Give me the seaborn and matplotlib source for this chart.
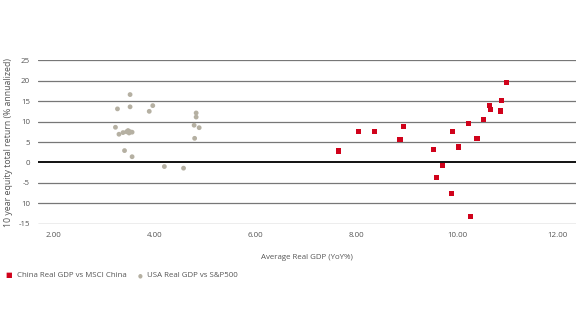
import matplotlib
matplotlib.use("Agg")
import matplotlib.pyplot as plt
import seaborn as sns
import pandas as pd

# China: average real GDP growth vs 10-year MSCI China annualised return
china_gdp = [7.65, 8.05, 8.36, 8.94, 8.87, 9.54, 9.60, 9.72, 9.91, 9.90,
             10.03, 10.23, 10.27, 10.40, 10.53, 10.64, 10.67, 10.87, 10.88, 10.98]
china_ret = [2.8, 7.5, 7.6, 8.7, 5.7, 3.1, -3.7, -0.8, 7.5, -7.6,
             3.8, 9.5, -13.3, 5.8, 10.5, 14.0, 13.0, 12.6, 15.2, 19.5]

# USA: average real GDP growth vs 10-year S&P500 annualised return
usa_gdp = [3.23, 3.27, 3.30, 3.38, 3.41, 3.45, 3.48, 3.50, 3.52, 3.56, 3.52,
           3.52, 3.56, 3.90, 3.97, 4.20, 4.58, 4.80, 4.79, 4.83, 4.83, 4.89]
usa_ret = [8.6, 13.1, 6.9, 7.3, 2.9, 7.5, 7.8, 7.2, 7.5, 7.4, 13.6,
           16.6, 1.4, 12.5, 13.9, -1.0, -1.4, 5.9, 9.1, 12.1, 11.1, 8.5]

x_ticks = [2, 4, 6, 8, 10, 12]
x_tick_labels = ["2.00", "4.00", "6.00", "8.00", "10.00", "12.00"]
y_ticks = [-15, -10, -5, 0, 5, 10, 15, 20, 25]
y_tick_labels = ["-15", "10", "-5", "0", "5", "10", "15", "20", "25"]

china_label = "China Real GDP vs MSCI China"
usa_label = "USA Real GDP vs S&P500"

china_df = pd.DataFrame({"gdp": china_gdp, "ret": china_ret})
usa_df = pd.DataFrame({"gdp": usa_gdp, "ret": usa_ret})

sns.set_theme(style="white")
plt.rcParams["font.family"] = ["Open Sans", "DejaVu Sans"]

RED = "#d0021b"
GREY = "#b5b0a2"
text_col = "#555555"
fs = 5.7

fig = plt.figure(figsize=(5.8, 3.22), dpi=100)
ax = fig.add_axes([0.066, 0.305, 0.927, 0.508])

for y in y_ticks:
    if y == 0:
        ax.axhline(y, color="#111111", lw=1.4, zorder=1)
    else:
        ax.axhline(y, color="#777777", lw=0.9, zorder=1)

sns.scatterplot(data=usa_df, x="gdp", y="ret", color=GREY, marker="o",
                s=12, edgecolor="none", ax=ax, zorder=3)
sns.scatterplot(data=china_df, x="gdp", y="ret", color=RED, marker="s",
                s=14, edgecolor="none", ax=ax, zorder=3)

ax.set_xlim(1.7, 12.36)
ax.set_ylim(-15, 25)
ax.set_xticks(x_ticks)
ax.set_xticklabels(x_tick_labels)
ax.set_yticks(y_ticks)
ax.set_yticklabels(y_tick_labels)
ax.tick_params(axis="both", length=0, labelsize=fs, colors=text_col, pad=6)
for s in ax.spines.values():
    s.set_visible(False)

ax.set_xlabel("Average Real GDP (YoY%)", fontsize=fs, color=text_col, labelpad=11)
ax.set_ylabel("10 year equity total return (% annualized)", fontsize=6.3,
              color=text_col, labelpad=4)

# legend row below the axis title
fig.text(0.010, 0.143, "\u25a0", color=RED, fontsize=5.0, va="center")
fig.text(0.029, 0.143, china_label, color=text_col, fontsize=fs, va="center")
fig.text(0.237, 0.143, "\u25cf", color=GREY, fontsize=4.0, va="center")
fig.text(0.253, 0.143, usa_label, color=text_col, fontsize=fs, va="center")

fig.savefig("out.png", dpi=100)
